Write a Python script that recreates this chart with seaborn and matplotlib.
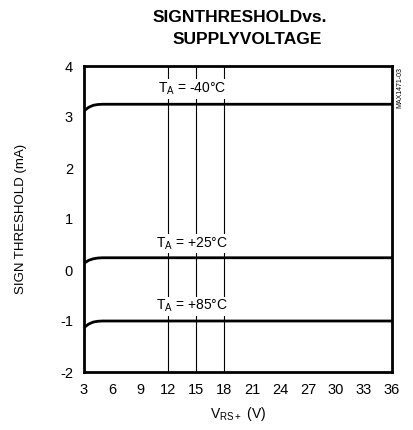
import matplotlib
matplotlib.use("Agg")
import matplotlib.pyplot as plt
import seaborn as sns
import pandas as pd

sns.set_theme(style="white")
plt.rcParams['font.family'] = ['Liberation Sans', 'DejaVu Sans']
plt.rcParams['axes.unicode_minus'] = False

voltage = [3, 3.5, 4, 4.5, 5, 6, 36]
thr_m40 = [3.12, 3.19, 3.23, 3.245, 3.25, 3.25, 3.25]
thr_p25 = [0.13, 0.19, 0.22, 0.235, 0.24, 0.24, 0.24]
thr_p85 = [-1.13, -1.06, -1.02, -1.005, -1.0, -1.0, -1.0]
labels = ["TA = -40°C", "TA = +25°C", "TA = +85°C"]
label_y = [3.55, 0.52, -0.71]
vlines_x = [12, 15, 18]
xticks = list(range(3, 37, 3))
yticks = [-2, -1, 0, 1, 2, 3, 4]

rows = []
for lab, ys in zip(labels, [thr_m40, thr_p25, thr_p85]):
    for v, t in zip(voltage, ys):
        rows.append({"V": v, "thr": t, "temp": lab})
df = pd.DataFrame(rows)

fig = plt.figure(figsize=(4.13, 4.30), dpi=100)
ax = fig.add_axes([84/413, 1 - 372/430, (392-84)/413, (372-66)/430])

for xv in vlines_x:
    ax.axvline(xv, color="black", lw=0.8, zorder=1)

sns.lineplot(data=df, x="V", y="thr", hue="temp", palette=["black"]*3,
             linewidth=2, legend=False, ax=ax, zorder=3)

for lab, yv in zip(labels, label_y):
    ax.text(14.6, yv, "T$_\\mathregular{A}$ = " + lab.split("= ")[1], ha="center", va="center",
            fontsize=10, color="black", zorder=4,
            bbox=dict(facecolor="white", edgecolor="none", pad=1.0))

ax.set_xlim(3, 36)
ax.set_ylim(-2, 4)
ax.set_xticks(xticks)
ax.set_yticks(yticks)
ax.tick_params(axis="both", length=0, labelsize=10.5, colors="black", pad=8)
for s in ax.spines.values():
    s.set_color("black")
    s.set_linewidth(2)
ax.set_xlabel("V$_\\mathregular{RS+}$ (V)", fontsize=10, color="black", labelpad=6)
ax.set_ylabel("SIGN THRESHOLD (mA)", fontsize=9.5, color="black", labelpad=24)

fig.text(240/413, 1 - 18/430, "SIGNTHRESHOLDvs.", ha="center", va="center",
         fontsize=12.5, fontweight="bold", color="black")
fig.text(247/413, 1 - 40/430, "SUPPLYVOLTAGE", ha="center", va="center",
         fontsize=12.5, fontweight="bold", color="black")
fig.text(400/413, 1 - 88/430, "MAX1471-03", rotation=90, ha="center", va="center",
         fontsize=5, color="black")

fig.savefig("out.png", dpi=100)
